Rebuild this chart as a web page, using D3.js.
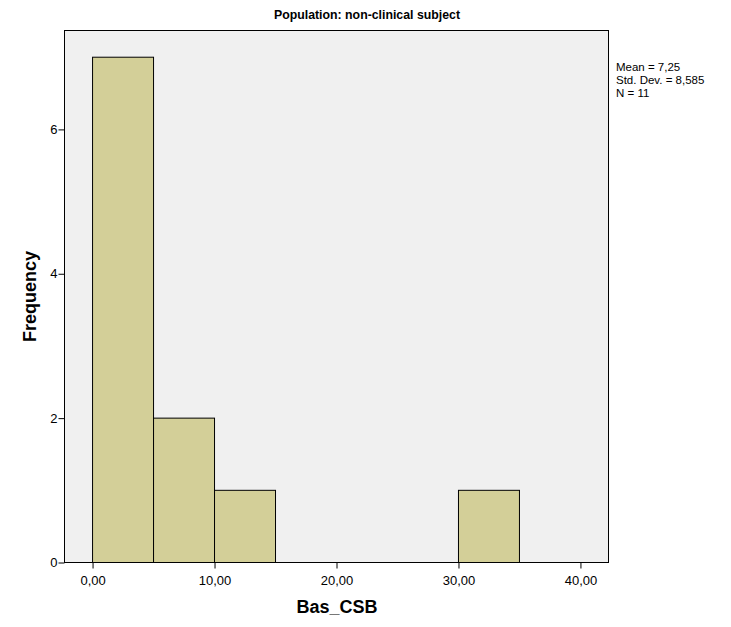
<!DOCTYPE html>
<html><head><meta charset="utf-8">
<script src="https://cdn.jsdelivr.net/npm/d3@7"></script>
<style>body{margin:0;background:#fff;} svg{display:block;font-family:"Liberation Sans",Arial,sans-serif;}</style>
</head><body>
<script>
const binStarts = [0, 5, 10, 30];
const binEnds = [5, 10, 15, 35];
const frequencies = [7, 2, 1, 1];
const xTicks = [0, 10, 20, 30, 40];
const yTicks = [0, 2, 4, 6];
const statLines = ["Mean = 7,25", "Std. Dev. = 8,585", "N = 11"];
const title = "Population: non-clinical subject";
const xLabel = "Bas_CSB";
const yLabel = "Frequency";

const W = 731, H = 627;
const L = 64.5, R = 608.5, T = 30.5, B = 562.5;
const svg = d3.select("body").append("svg").attr("width", W).attr("height", H);
const x = d3.scaleLinear().domain([-2.3, 42.3]).range([L, R]);
const y = d3.scaleLinear().domain([0, 7.37]).range([B, T]);

svg.append("rect").attr("x", L).attr("y", T).attr("width", R - L).attr("height", B - T)
  .attr("fill", "#f0f0f0").attr("stroke", "#000").attr("stroke-width", 1);

svg.selectAll("rect.bar").data(frequencies).enter().append("rect").attr("class", "bar")
  .attr("x", (d, i) => x(binStarts[i]))
  .attr("width", (d, i) => x(binEnds[i]) - x(binStarts[i]))
  .attr("y", d => y(d)).attr("height", d => y(0) - y(d))
  .attr("fill", "#d3cf98").attr("stroke", "#000").attr("stroke-width", 1);

const fmt = v => d3.format(".2f")(v).replace(".", ",");
const xAxis = svg.append("g").attr("transform", `translate(0,${B})`)
  .call(d3.axisBottom(x).tickValues(xTicks).tickFormat(fmt).tickSize(6).tickSizeOuter(0));
xAxis.select(".domain").remove();
xAxis.selectAll("text").attr("font-size", 13).attr("fill", "#000").attr("dy", "1.05em").attr("font-family", "Liberation Sans, Arial, sans-serif");
xAxis.selectAll("line").attr("stroke", "#000");

const yAxis = svg.append("g").attr("transform", `translate(${L},0)`)
  .call(d3.axisLeft(y).tickValues(yTicks).tickFormat(d3.format("d")).tickSize(6).tickSizeOuter(0));
yAxis.select(".domain").remove();
yAxis.selectAll("text").attr("font-size", 13).attr("fill", "#000").attr("x", -7).attr("font-family", "Liberation Sans, Arial, sans-serif");
yAxis.selectAll("line").attr("stroke", "#000");

svg.append("text").attr("x", 367).attr("y", 19).attr("text-anchor", "middle")
  .attr("font-weight", "bold").attr("font-size", 13).attr("textLength", 186).attr("lengthAdjust", "spacingAndGlyphs").text(title);
svg.append("text").attr("x", 337).attr("y", 613).attr("text-anchor", "middle")
  .attr("font-weight", "bold").attr("font-size", 18).text(xLabel);
svg.append("text").attr("transform", `translate(36,${(T + B) / 2}) rotate(-90)`).attr("text-anchor", "middle")
  .attr("font-weight", "bold").attr("font-size", 18).text(yLabel);

svg.selectAll("text.stat").data(statLines).enter().append("text").attr("class", "stat")
  .attr("x", 616).attr("y", (d, i) => 71 + i * 13).attr("font-size", 11.5).text(d => d);
</script>
</body></html>
